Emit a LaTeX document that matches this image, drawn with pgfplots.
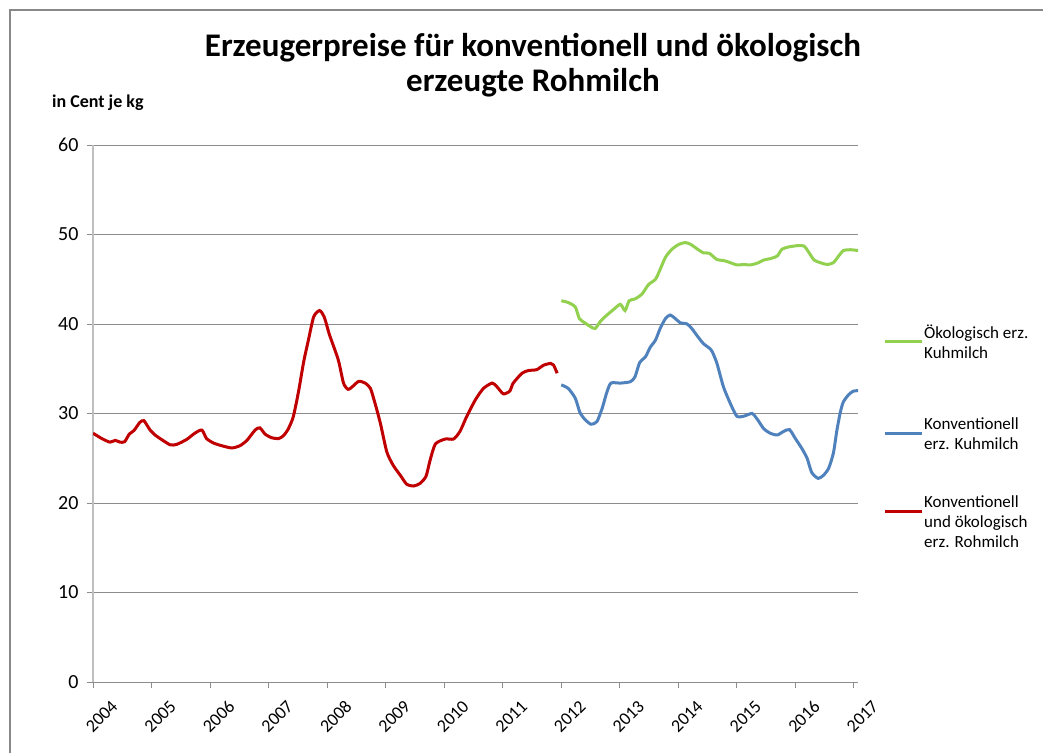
\documentclass[border=0pt]{standalone}
\usepackage{fontspec}
\setmainfont{Carlito}
\usepackage{pgfplots}
\pgfplotsset{compat=1.18}
\definecolor{cgreen}{RGB}{146,208,80}
\definecolor{cblue}{RGB}{79,129,189}
\definecolor{cred}{RGB}{192,0,0}
\definecolor{gridc}{RGB}{140,140,140}
\definecolor{axc}{RGB}{191,191,191}
\definecolor{framec}{RGB}{136,136,136}
\newcommand{\legtext}[1]{\fontsize{17}{20}\selectfont\begin{tabular}[t]{@{}l@{}}#1\end{tabular}}
\begin{document}
\begin{tikzpicture}[x=1pt,y=1pt]
\begin{axis}[
  at={(93pt,71pt)}, anchor=south west,
  scale only axis, width=765pt, height=537pt,
  xmin=2004, xmax=2017.07, ymin=0, ymax=60,
  xtick={2004,...,2017}, ytick={0,10,...,60},
  axis x line*=bottom, axis y line*=left,
  x axis line style={gridc, line width=1pt},
  y axis line style={axc, line width=2pt},
  tick align=outside, major tick length=6pt,
  tick style={gridc, line width=1pt},
  ymajorgrids, grid style={gridc, line width=1pt},
  /pgf/number format/assume math mode=true,
  /pgf/number format/1000 sep={},
  yticklabel style={font=\fontsize{20}{20}\selectfont, text=black, xshift=-5pt},
  xticklabel style={font=\fontsize{18}{18}\selectfont, text=black, xshift=24pt, yshift=-13pt, rotate=45, anchor=east},
]
\addplot[cgreen, line width=3pt, smooth, tension=0.4] table {
x y
2012.00 42.6
2012.12 42.4
2012.24 41.9
2012.31 40.6
2012.41 40.1
2012.50 39.7
2012.58 39.5
2012.67 40.3
2012.78 41.0
2012.89 41.6
2013.01 42.2
2013.09 41.5
2013.16 42.6
2013.26 42.8
2013.38 43.35
2013.49 44.4
2013.61 45.0
2013.69 46.1
2013.78 47.45
2013.89 48.35
2014.01 48.9
2014.12 49.1
2014.21 48.9
2014.32 48.4
2014.43 47.95
2014.53 47.9
2014.66 47.2
2014.77 47.1
2014.89 46.85
2015.00 46.6
2015.12 46.65
2015.23 46.6
2015.35 46.8
2015.46 47.15
2015.57 47.3
2015.69 47.6
2015.77 48.35
2015.88 48.6
2016.03 48.75
2016.15 48.7
2016.22 48.1
2016.32 47.15
2016.43 46.85
2016.54 46.65
2016.65 46.85
2016.74 47.6
2016.82 48.2
2016.94 48.3
2017.08 48.2
};
\addplot[cblue, line width=3pt, smooth, tension=0.4] table {
x y
2012.00 33.2
2012.12 32.8
2012.24 31.7
2012.32 30.1
2012.41 29.3
2012.51 28.8
2012.61 29.1
2012.70 30.6
2012.78 32.4
2012.85 33.4
2013.01 33.4
2013.18 33.55
2013.26 34.1
2013.34 35.7
2013.44 36.35
2013.52 37.4
2013.61 38.2
2013.69 39.5
2013.78 40.6
2013.86 41.0
2013.95 40.6
2014.03 40.15
2014.15 40.0
2014.23 39.5
2014.32 38.7
2014.43 37.8
2014.53 37.3
2014.58 36.9
2014.66 35.6
2014.77 33.0
2014.89 31.1
2015.00 29.7
2015.12 29.7
2015.26 30.0
2015.35 29.35
2015.46 28.3
2015.57 27.8
2015.69 27.6
2015.80 28.0
2015.90 28.2
2016.00 27.2
2016.11 26.1
2016.20 25.0
2016.28 23.4
2016.39 22.75
2016.48 23.1
2016.57 23.9
2016.65 25.6
2016.71 28.15
2016.77 30.2
2016.82 31.3
2016.91 32.1
2016.99 32.5
2017.08 32.55
};
\addplot[cred, line width=3pt, smooth, tension=0.4] table {
x y
2004.00 27.8
2004.15 27.2
2004.29 26.8
2004.38 27.0
2004.46 26.8
2004.54 26.85
2004.62 27.7
2004.70 28.1
2004.80 29.0
2004.87 29.2
2004.97 28.2
2005.06 27.6
2005.17 27.1
2005.32 26.5
2005.43 26.55
2005.60 27.1
2005.74 27.8
2005.86 28.15
2005.94 27.2
2006.06 26.7
2006.20 26.4
2006.37 26.15
2006.51 26.4
2006.63 27.0
2006.77 28.15
2006.85 28.4
2006.94 27.7
2007.05 27.3
2007.17 27.2
2007.25 27.5
2007.33 28.2
2007.42 29.6
2007.51 32.4
2007.60 35.8
2007.68 38.2
2007.77 40.8
2007.87 41.5
2007.95 40.8
2008.04 38.8
2008.19 36.0
2008.28 33.4
2008.36 32.7
2008.45 33.1
2008.54 33.6
2008.65 33.4
2008.74 32.8
2008.82 31.1
2008.91 28.9
2009.02 25.7
2009.13 24.2
2009.25 23.1
2009.36 22.1
2009.48 21.9
2009.59 22.2
2009.69 23.0
2009.76 24.8
2009.85 26.6
2010.02 27.15
2010.16 27.15
2010.27 28.0
2010.38 29.6
2010.53 31.5
2010.67 32.8
2010.82 33.4
2010.90 33.0
2011.01 32.2
2011.12 32.5
2011.18 33.4
2011.33 34.5
2011.44 34.8
2011.58 34.9
2011.70 35.4
2011.82 35.6
2011.87 35.4
2011.93 34.5
};
\end{axis}
% title
\node[anchor=base, font=\bfseries\fontsize{33}{40}\selectfont] at (533pt,696pt) {Erzeugerpreise für konventionell und ökologisch};
\node[anchor=base, font=\bfseries\fontsize{33}{40}\selectfont] at (533pt,661pt) {erzeugte Rohmilch};
\node[anchor=base west, inner sep=0pt, font=\bfseries\fontsize{18}{18}\selectfont] at (52pt,645pt) {in Cent je kg};
% legend
\draw[cgreen, line width=3pt] (885pt,411pt) -- (922pt,411pt);
\node[anchor=base west, inner sep=0pt] at (924pt,414.5pt) {\legtext{Ökologisch erz.\\ Kuhmilch}};
\draw[cblue, line width=3pt] (885pt,320pt) -- (922pt,320pt);
\node[anchor=base west, inner sep=0pt] at (924pt,323.5pt) {\legtext{Konventionell\\ erz. Kuhmilch}};
\draw[cred, line width=3pt] (885pt,242pt) -- (922pt,242pt);
\node[anchor=base west, inner sep=0pt] at (924pt,245.5pt) {\legtext{Konventionell\\ und ökologisch\\ erz. Rohmilch}};
% frame
\draw[framec, line width=2pt] (10pt,0pt) -- (10pt,743pt) -- (1043pt,743pt);
\pgfresetboundingbox
\path[use as bounding box] (0pt,0pt) rectangle (1043pt,753pt);
\end{tikzpicture}
\end{document}
